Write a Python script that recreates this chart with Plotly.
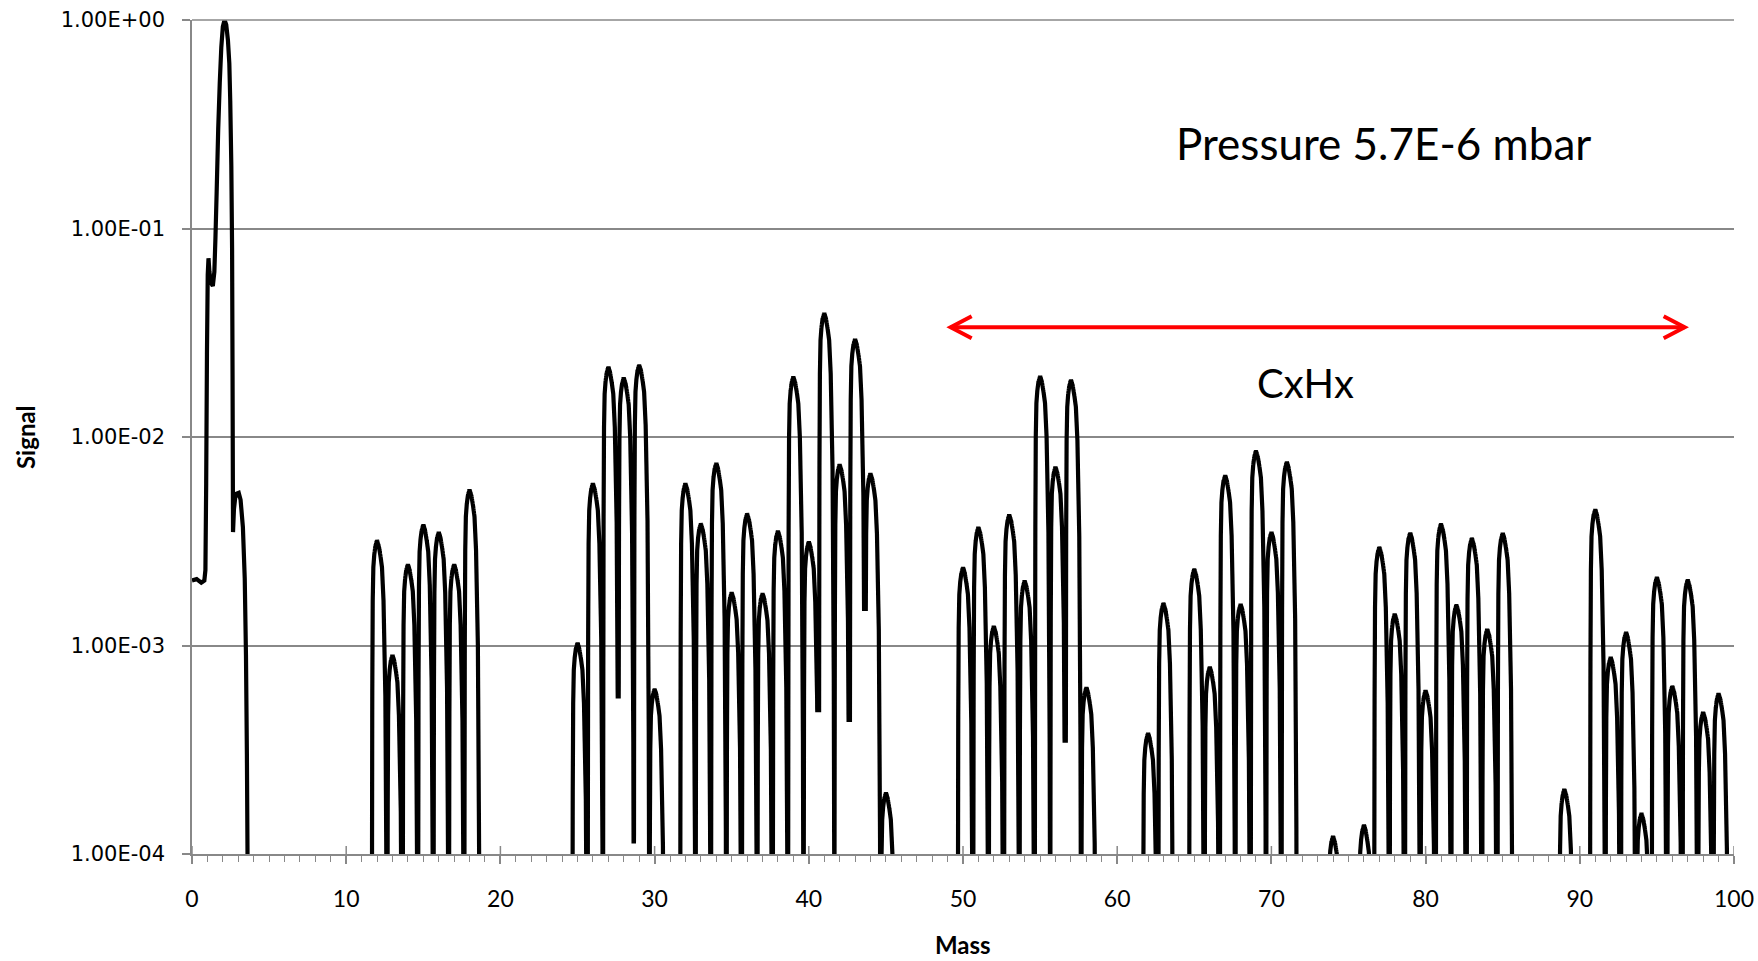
import numpy as np
import plotly.graph_objects as go

# ---------------- data ----------------
# low-mass region (H+ / H2+ / mass 3), sampled along the trace
low_mass = [0.0, 0.3, 0.6, 0.8, 0.87, 0.92, 0.97, 1.02, 1.07, 1.13, 1.22, 1.35, 1.45,
            1.52, 1.6, 1.7, 1.8, 1.9, 2.0, 2.11, 2.22, 2.33, 2.42, 2.48, 2.55, 2.6,
            2.63, 2.66, 2.72, 2.8, 2.9, 3.03, 3.15, 3.3, 3.42, 3.5, 3.56, 3.6, 3.65]
low_signal = [2.05e-3, 2.08e-3, 2.0e-3, 2.05e-3, 2.3e-3, 6e-3, 0.025, 0.06, 0.072, 0.062,
              0.055, 0.053, 0.062, 0.09, 0.15, 0.3, 0.5, 0.74, 0.93, 1.0, 0.95, 0.8, 0.62,
              0.41, 0.2, 0.08, 0.02, 3.5e-3, 4.5e-3, 5.1e-3, 5.35e-3, 5.4e-3, 5.0e-3,
              3.7e-3, 2.1e-3, 9e-4, 3e-4, 1e-4, 1e-6]

# peak masses and peak signals (mass 12 .. 99)
peak_mass = [12, 13, 14, 15, 16, 17, 18,
             25, 26, 27, 28, 29, 30,
             32, 33, 34, 35, 36, 37, 38, 39, 40, 41, 42, 43, 44, 45,
             50, 51, 52, 53, 54, 55, 56, 57, 58,
             62, 63,
             65, 66, 67, 68, 69, 70, 71,
             74,
             76, 77, 78, 79, 80, 81, 82, 83, 84, 85,
             89,
             91, 92, 93, 94, 95, 96, 97, 98, 99]
peak_signal = [3.2e-3, 9.0e-4, 2.45e-3, 3.8e-3, 3.5e-3, 2.45e-3, 5.6e-3,
               1.03e-3, 6.0e-3, 2.17e-2, 1.93e-2, 2.22e-2, 6.2e-4,
               6.0e-3, 3.85e-3, 7.5e-3, 1.8e-3, 4.3e-3, 1.78e-3, 3.55e-3, 1.95e-2, 3.15e-3,
               3.93e-2, 7.4e-3, 2.95e-2, 6.7e-3, 1.97e-4,
               2.37e-3, 3.7e-3, 1.24e-3, 4.25e-3, 2.05e-3, 1.96e-2, 7.2e-3, 1.88e-2, 6.3e-4,
               3.8e-4, 1.6e-3,
               2.33e-3, 7.9e-4, 6.55e-3, 1.58e-3, 8.6e-3, 3.5e-3, 7.6e-3,
               1.22e-4,
               1.38e-4, 2.97e-3, 1.42e-3, 3.47e-3, 6.1e-4, 3.84e-3, 1.57e-3, 3.28e-3, 1.2e-3, 3.46e-3,
               2.05e-4,
               4.5e-3, 8.8e-4, 1.16e-3, 1.57e-4, 2.13e-3, 6.4e-4, 2.07e-3, 4.8e-4, 5.9e-4]

# minima between neighbouring peaks that stay above 1E-4 (left peak mass, signal)
valley_left_mass = [27, 28, 40, 42, 43, 56]
valley_signal = [5.7e-4, 1.15e-4, 4.9e-4, 4.4e-4, 1.5e-3, 3.5e-4]

x_ticks = list(range(0, 101, 10))
y_ticks = [1e-4, 1e-3, 1e-2, 1e-1, 1]
y_ticktext = ["1.00E-04", "1.00E-03", "1.00E-02", "1.00E-01", "1.00E+00"]

arrow_from, arrow_to = 49.2, 96.8   # mass range of the CxHx arrow

# ---------------- peak line shape (style template) ----------------
shape_offset = [-0.39, -0.355, -0.345, -0.33, -0.31, -0.28, -0.24, -0.18, -0.11, 0.0,
                0.12, 0.23, 0.32, 0.42, 0.54, 0.62, 0.66, 0.70, 0.76]
shape_drop = [12, 6, 3, 1.75, 0.75, 0.29, 0.13, 0.07, 0.03, 0,
              0.03, 0.08, 0.13, 0.29, 0.75, 1.75, 3, 6, 12]

grid = np.arange(3.7, 100.0001, 0.004)
logy = np.full_like(grid, -12.0)
for m, h in zip(peak_mass, peak_signal):
    d = np.interp(grid - m, shape_offset, shape_drop, left=12, right=12)
    logy = np.maximum(logy, np.log10(h) - d)
for m, v in zip(valley_left_mass, valley_signal):
    sel = (grid >= m) & (grid <= m + 1)
    logy[sel] = np.maximum(logy[sel], np.log10(v))

xs = list(low_mass) + grid.tolist()
ys = list(low_signal) + (10 ** logy).tolist()

GRID = "#888888"

fig = go.Figure()
fig.add_trace(go.Scatter(x=xs, y=ys, mode="lines",
                         line=dict(color="black", width=4.2, simplify=False),
                         hoverinfo="skip"))

fig.update_layout(
    width=1758, height=961,
    margin=dict(l=192, r=24, t=20, b=107, autoexpand=False),
    plot_bgcolor="white", paper_bgcolor="white",
    showlegend=False,
)
fig.update_xaxes(
    range=[0, 100], tickmode="array", tickvals=x_ticks, ticktext=[str(v) for v in x_ticks],
    ticks="outside", ticklen=8, tickwidth=1.5, tickcolor=GRID,
    showline=True, linecolor=GRID, linewidth=1.5, showgrid=False, zeroline=False,
    tickfont=dict(family="Lato", size=23, color="black"),
    ticklabelstandoff=16, automargin=False,
    minor=dict(tickmode="linear", tick0=0, dtick=1, ticks="outside", ticklen=6,
               tickwidth=1.2, tickcolor=GRID, showgrid=False),
)
fig.update_yaxes(
    type="log", range=[-4, 0], tickmode="array", tickvals=y_ticks, ticktext=y_ticktext,
    ticks="outside", ticklen=8, tickwidth=1.5, tickcolor=GRID,
    showline=True, linecolor=GRID, linewidth=1.5,
    showgrid=True, gridcolor=GRID, gridwidth=1.5, zeroline=False,
    tickfont=dict(family="DejaVu Sans", size=21, color="black"),
    ticklabelstandoff=13, automargin=False,
)

shapes = []
# top grid line
shapes.append(dict(type="line", xref="paper", yref="paper", x0=0, x1=1, y0=1, y1=1,
                   line=dict(color=GRID, width=1.5)))
# major x ticks crossing the axis
for v in x_ticks:
    shapes.append(dict(type="line", xref="x", yref="paper", x0=v, x1=v,
                       ysizemode="pixel", yanchor=0, y0=0, y1=8,
                       line=dict(color=GRID, width=1.5)))
# red double arrow
AY = 0.6317
shapes.append(dict(type="line", xref="x", yref="paper", x0=arrow_from, x1=arrow_to,
                   y0=AY, y1=AY, line=dict(color="#FF0000", width=4)))
shapes.append(dict(type="path", xref="x", yref="paper", xsizemode="pixel", ysizemode="pixel",
                   xanchor=arrow_from, yanchor=AY, path="M21,11 L0,0 L21,-11",
                   line=dict(color="#FF0000", width=4), fillcolor="rgba(0,0,0,0)"))
shapes.append(dict(type="path", xref="x", yref="paper", xsizemode="pixel", ysizemode="pixel",
                   xanchor=arrow_to, yanchor=AY, path="M-21,11 L0,0 L-21,-11",
                   line=dict(color="#FF0000", width=4), fillcolor="rgba(0,0,0,0)"))
fig.update_layout(shapes=shapes)

annotations = [
    dict(text="Pressure 5.7E-6 mbar", xref="x", yref="paper", x=77.3, y=0.8522,
         showarrow=False, xanchor="center", yanchor="middle",
         font=dict(family="Lato", size=44, color="black")),
    dict(text="CxHx", xref="x", yref="paper", x=72.2, y=0.5646,
         showarrow=False, xanchor="center", yanchor="middle",
         font=dict(family="Lato", size=40, color="black")),
    dict(text="<b>Signal</b>", xref="paper", yref="paper", x=-0.1083, y=0.5,
         showarrow=False, xanchor="center", yanchor="middle", textangle=-90,
         font=dict(family="Lato", size=24, color="black")),
    dict(text="<b>Mass</b>", xref="paper", yref="paper", x=0.5, y=-0.1086,
         showarrow=False, xanchor="center", yanchor="middle",
         font=dict(family="Lato", size=24, color="black")),
]
fig.update_layout(annotations=annotations)

fig.write_html("out.html")
